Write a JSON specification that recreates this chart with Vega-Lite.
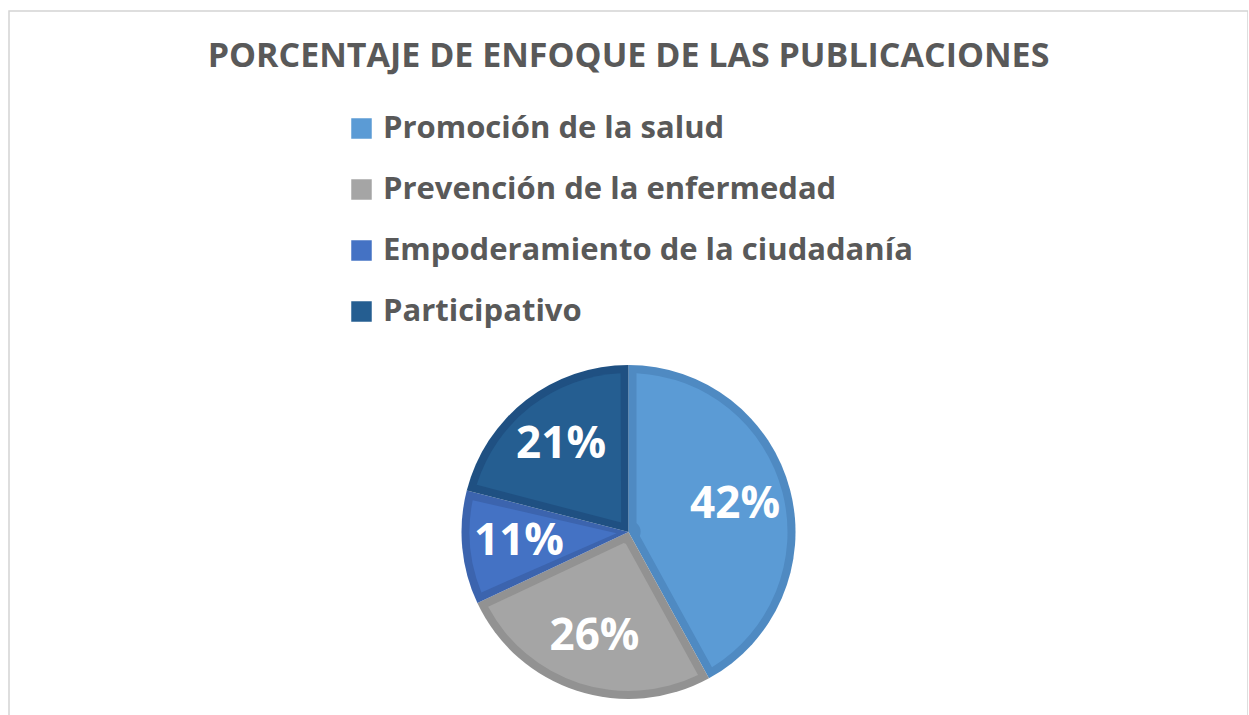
{
  "$schema": "https://vega.github.io/schema/vega-lite/v6.json",
  "autosize": "none",
  "width": 1239,
  "height": 1042,
  "padding": {"left": 9, "top": 11, "right": 0, "bottom": 0},
  "background": "white",
  "view": {"stroke": "#D4D4D4", "strokeWidth": 1.5, "fill": "white"},
  "title": {
    "text": "PORCENTAJE DE ENFOQUE DE LAS PUBLICACIONES",
    "frame": "group",
    "anchor": "middle",
    "offset": -63,
    "font": "Open Sans",
    "fontSize": 34,
    "fontWeight": "bold",
    "color": "#595959"
  },
  "data": {
    "values": [
      {"enfoque": "Promoción de la salud", "porcentaje": 0.42, "orden": 1},
      {"enfoque": "Prevención de la enfermedad", "porcentaje": 0.26, "orden": 2},
      {"enfoque": "Empoderamiento de la ciudadanía", "porcentaje": 0.11, "orden": 3},
      {"enfoque": "Participativo", "porcentaje": 0.21, "orden": 4}
    ]
  },
  "encoding": {
    "theta": {"field": "porcentaje", "type": "quantitative", "stack": true},
    "order": {"field": "orden", "type": "quantitative"}
  },
  "layer": [
    {
      "mark": {"type": "arc", "outerRadius": 167},
      "encoding": {
        "color": {
          "field": "enfoque",
          "type": "nominal",
          "scale": {
            "domain": ["Promoción de la salud", "Prevención de la enfermedad", "Empoderamiento de la ciudadanía", "Participativo"],
            "range": ["#4F8AC2", "#929292", "#3C64AE", "#1F5082"]
          },
          "legend": null
        }
      }
    },
    {
      "mark": {"type": "arc", "outerRadius": 159, "innerRadius": 12, "padAngle": 0.1},
      "encoding": {
        "color": {
          "field": "enfoque",
          "type": "nominal",
          "scale": {
            "domain": ["Promoción de la salud", "Prevención de la enfermedad", "Empoderamiento de la ciudadanía", "Participativo"],
            "range": ["#5B9BD5", "#A5A5A5", "#4472C4", "#255E91"]
          },
          "legend": {
            "title": null,
            "orient": "none",
            "legendX": 337,
            "legendY": 102,
            "direction": "vertical",
            "symbolType": "square",
            "symbolSize": 420,
            "symbolStrokeWidth": 0,
            "labelFont": "Open Sans",
            "labelFontSize": 31,
            "labelFontWeight": "bold",
            "labelColor": "#595959",
            "labelOffset": 6,
            "rowPadding": 29,
            "labelLimit": 800
          }
        }
      }
    },
    {
      "mark": {"type": "text", "radius": 110, "font": "Open Sans", "fontSize": 44, "fontWeight": "bold", "color": "white"},
      "encoding": {
        "text": {"field": "porcentaje", "type": "quantitative", "format": ".0%"},
        "detail": {"field": "enfoque"}
      }
    }
  ],
  "resolve": {"scale": {"color": "independent"}}
}
